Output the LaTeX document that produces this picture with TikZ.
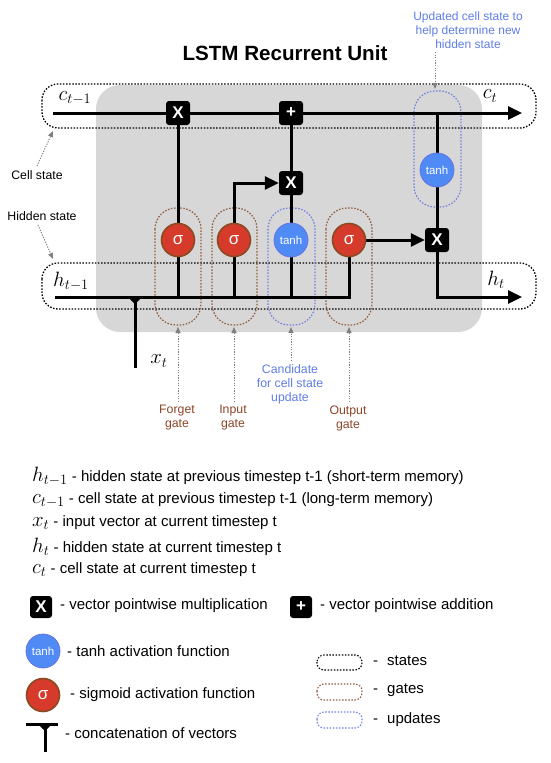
\documentclass[tikz,border=0pt]{standalone}
\usepackage{fontspec}
\setmainfont{Liberation Sans}
\usetikzlibrary{arrows.meta}
\pgfdeclarelayer{bg}
\pgfdeclarelayer{lines}
\pgfsetlayers{bg,lines,main}
\definecolor{cellgray}{HTML}{D7D7D7}
\definecolor{sigred}{HTML}{D63A2A}
\definecolor{sigbrown}{HTML}{8A4A22}
\definecolor{tanhblue}{HTML}{4F8AF5}
\definecolor{tanhring}{HTML}{6A72E0}
\definecolor{gatebrown}{HTML}{8E5A3A}
\definecolor{updblue}{HTML}{6F80E0}
\definecolor{lblbrown}{HTML}{8B4526}
\definecolor{lblblue}{HTML}{5F7DE6}
\newcommand{\legm}[1]{{\fontsize{19.5}{19.5}\selectfont$#1$}}
\begin{document}
\begin{tikzpicture}[x=1pt,y=-1pt,
  opbox/.style={rectangle, fill=black, rounded corners=3pt, minimum size=24pt, inner sep=0pt, text=white, font=\bfseries\fontsize{17}{17}\selectfont},
  sig/.style={circle, fill=sigred, draw=sigbrown, line width=1.6pt, minimum size=33pt, inner sep=0pt, text=white, font=\fontsize{17}{17}\selectfont},
  tanhc/.style={circle, fill=tanhblue, draw=tanhring, line width=0.8pt, minimum size=34pt, inner sep=0pt, text=white, font=\fontsize{11.5}{12}\selectfont},
  flow/.style={line width=3pt},
  arr/.style={line width=3pt, -{Triangle[length=14pt,width=13pt]}},
  note/.style={gray, line width=1pt, dash pattern=on 1.2pt off 1.4pt, -{Triangle[length=6pt,width=5pt]}},
  statebox/.style={black, line width=1.3pt, dash pattern=on 1.5pt off 1.6pt},
  gatebox/.style={gatebrown, line width=1.2pt, dash pattern=on 1.5pt off 1.6pt},
  updbox/.style={updblue, line width=1.2pt, dash pattern=on 1.5pt off 1.6pt},
  small/.style={font=\fontsize{12.3}{14}\selectfont, align=center},
  legend/.style={anchor=west, inner sep=0pt, font=\fontsize{15}{16}\selectfont},
  mathlbl/.style={inner sep=0pt, font=\fontsize{22}{22}\selectfont}
]
\useasboundingbox (0,0) rectangle (550,763);

% title
\node[font=\bfseries\fontsize{20.6}{21}\selectfont] (title) at (285,53) {LSTM Recurrent Unit};

% operation nodes
\node[opbox] (mul1) at (178,113) {X};
\node[opbox] (add) at (291,113) {+};
\node[opbox] (mul2) at (291,183) {X};
\node[opbox] (mul3) at (437,240) {X};
\node[sig] (sigF) at (178,240) {σ};
\node[sig] (sigI) at (234,240) {σ};
\node[tanhc] (tanC) at (291,240) {tanh};
\node[sig] (sigO) at (349,240) {σ};
\node[tanhc] (tanU) at (437,170) {tanh};

\coordinate (cin) at (53,113);
\coordinate (cout) at (522,113);
\coordinate (hin) at (55,297);
\coordinate (hout) at (522,297);
\coordinate (xin) at (135,368);
\coordinate (hj) at (135,297);

\begin{pgfonlayer}{bg}
  \fill[cellgray, rounded corners=24pt] (96,85) rectangle (482,332);
  \draw[statebox, rounded corners=16pt] (42,84) rectangle (536,128);
  \draw[statebox, rounded corners=16pt] (42,263) rectangle (536,309);
  \draw[gatebox, rounded corners=21pt] (155,208) rectangle (201,325);
  \draw[gatebox, rounded corners=21pt] (212,208) rectangle (257,325);
  \draw[updbox, rounded corners=21pt] (268,208) rectangle (315,325);
  \draw[gatebox, rounded corners=21pt] (326,208) rectangle (372,325);
  \draw[updbox, rounded corners=21pt] (414,91) rectangle (461,207);
\end{pgfonlayer}

\begin{pgfonlayer}{lines}
  \draw[arr] (cin) -- (cout);
  \draw[flow] (hin) -| (sigO.center);
  \draw[flow] (xin) -- (hj);
  \fill (129,298) -- (141,298) -- (135,304) -- cycle;
  \draw[flow] (sigF |- hin) -- (mul1.center);
  \draw[flow] (sigI |- hin) -- (sigI.center);
  \draw[arr] (sigI.north) |- (mul2.west);
  \draw[flow] (tanC |- hin) -- (add.center);
  \draw[arr] (sigO.east) -- (mul3.west);
  \draw[flow] (tanU |- cin) -- (mul3.center);
  \draw[arr] (mul3.center) |- (hout);
\end{pgfonlayer}

% state labels
\node[mathlbl] (lc0) at (75,98) {$c_{t-1}$};
\node[mathlbl] (lc1) at (490,96) {$c_t$};
\node[mathlbl] (lh0) at (71,281) {$h_{t-1}$};
\node[mathlbl] (lh1) at (496,280) {$h_t$};
\node[mathlbl] (lx) at (159,361) {$x_t$};

% side labels
\node[small] (cellL) at (37,175) {Cell state};
\node[small] (hidL) at (42,216) {Hidden state};
\coordinate (cellT) at (53,131);
\coordinate (hidT) at (53,259);
\draw[note] (cellL.north) ++(0,-1) -- (cellT);
\draw[note] (hidL.south) ++(-4,1) -- (hidT);

% updated cell state label
\node[small, text=lblblue, font=\fontsize{12}{14}\selectfont] (updL) at (468,30) {Updated cell state to\\help determine new\\hidden state};
\coordinate (updT) at (435,89);
\draw[note] (updL.south -| updT) -- (updT);

% gate labels
\node[small, text=lblbrown] (forL) at (177,418) {Forget\\gate};
\node[small, text=lblbrown] (inL) at (233,418) {Input\\gate};
\node[small, text=lblbrown] (outL) at (348,418) {Output\\gate};
\node[small, text=lblblue] (canL) at (290,384) {Candidate\\for cell state\\update};
\coordinate (forT) at (178,327);
\coordinate (inT) at (234,327);
\coordinate (canT) at (291,327);
\coordinate (outT) at (349,327);
\draw[note] (forL.north -| forT) -- (forT);
\draw[note] (inL.north -| inT) -- (inT);
\draw[note] (canL.north -| canT) -- (canT);
\draw[note] (outL.north -| outT) -- (outT);

% legend text
\node[legend] (g1) at (32,476) {\legm{h_{t-1}} - hidden state at previous timestep t-1 (short-term memory)};
\node[legend] (g2) at (32,500) {\legm{c_{t-1}} - cell state at previous timestep t-1 (long-term memory)};
\node[legend] (g3) at (32,523) {\legm{x_t} - input vector at current timestep t};
\node[legend] (g4) at (32,547) {\legm{h_t} - hidden state at current timestep t};
\node[legend] (g5) at (32,570) {\legm{c_t} - cell state at current timestep t};

% legend symbols
\node[opbox, minimum size=22pt] (lgMul) at (41,607) {X};
\node[legend] (lgMulT) at (60,606) {- vector pointwise multiplication};
\node[opbox, minimum size=22pt] (lgAdd) at (301,607) {+};
\node[legend] (lgAddT) at (320,606) {- vector pointwise addition};
\node[tanhc] (lgTanh) at (43,651) {tanh};
\node[legend] (lgTanhT) at (67,651) {- tanh activation function};
\node[sig] (lgSig) at (43,695) {σ};
\node[legend] (lgSigT) at (70,695) {- sigmoid activation function};
\coordinate (tL) at (26,724);
\coordinate (tR) at (58,724);
\coordinate (tM) at (45,724);
\coordinate (tB) at (45,752);
\draw[flow] (tL) -- (tR);
\draw[flow] (tM) -- (tB);
\fill (39,725) -- (51,725) -- (45,731) -- cycle;
\node[legend] (lgCatT) at (65,733) {- concatenation of vectors};

\draw[statebox, line width=1.1pt, rounded corners=7pt] (317,655) rectangle (362,670);
\draw[gatebox, line width=1.1pt, rounded corners=7pt] (317,684) rectangle (362,700);
\draw[updbox, line width=1.1pt, rounded corners=7pt] (317,712) rectangle (362,728);
\node[legend] (lgS) at (373,661) {-\hspace{0.6em}states};
\node[legend] (lgG) at (373,690) {-\hspace{0.6em}gates};
\node[legend] (lgU) at (373,720) {-\hspace{0.6em}updates};
\end{tikzpicture}
\end{document}
